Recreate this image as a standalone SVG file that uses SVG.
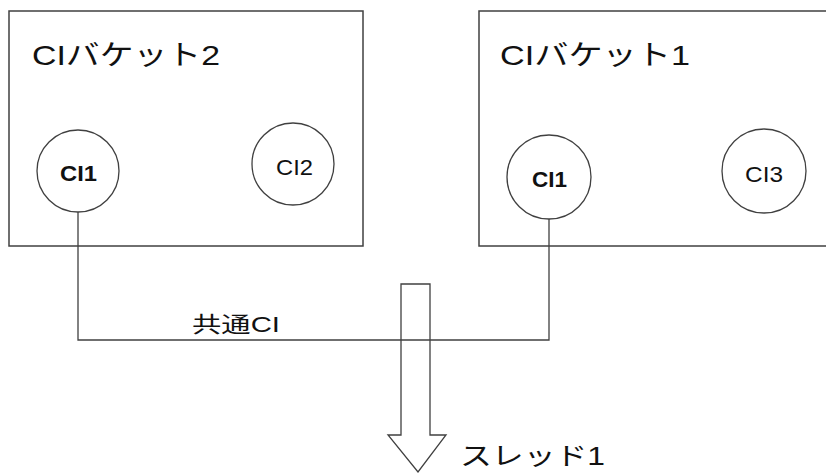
<svg xmlns="http://www.w3.org/2000/svg" width="826" height="473" viewBox="0 0 826 473">
<style>
.box{fill:#fff;stroke:#404040;stroke-width:1.5}
.node{fill:#fff;stroke:#404040;stroke-width:1.3}
.wire{fill:none;stroke:#404040;stroke-width:1.3}
.t{font-family:"Liberation Sans","Noto Sans CJK JP",sans-serif;fill:#111}
.title{font-size:28px}
.lbl{font-size:22px}
.b{font-weight:bold}
</style>
<rect width="826" height="473" fill="#fff"/>
<g id="bucket2">
<rect class="box" x="9" y="11" width="354" height="235"/>
<text class="t title" x="32" y="65" textLength="188" lengthAdjust="spacingAndGlyphs">CIバケット2</text>
</g>
<g id="bucket1">
<rect class="box" x="479" y="11" width="360" height="235"/>
<text class="t title" x="500" y="65" textLength="190" lengthAdjust="spacingAndGlyphs">CIバケット1</text>
</g>
<g id="b2-ci1">
<circle class="node" cx="78" cy="171" r="41"/>
<text class="t lbl b" x="60" y="181" textLength="37" lengthAdjust="spacingAndGlyphs">CI1</text>
</g>
<g id="b2-ci2">
<circle class="node" cx="293" cy="164" r="41"/>
<text class="t lbl" x="276" y="175" textLength="37" lengthAdjust="spacingAndGlyphs">CI2</text>
</g>
<g id="b1-ci1">
<circle class="node" cx="549" cy="177" r="42"/>
<text class="t lbl b" x="532" y="187" textLength="35" lengthAdjust="spacingAndGlyphs">CI1</text>
</g>
<g id="b1-ci3">
<circle class="node" cx="764" cy="171" r="42"/>
<text class="t lbl" x="745" y="182" textLength="38" lengthAdjust="spacingAndGlyphs">CI3</text>
</g>
<g id="connectors">
<path class="wire" d="M78 212 V340 H549 V219"/>
<text class="t" x="192" y="332" font-size="22" textLength="88" lengthAdjust="spacingAndGlyphs">共通CI</text>
</g>
<g id="thread-arrow">
<path class="wire" d="M401 284 H430 V435 H446 L418 472 L388 435 H401 Z"/>
<text class="t" x="460" y="465" font-size="25" textLength="145" lengthAdjust="spacingAndGlyphs">スレッド1</text>
</g>
</svg>
